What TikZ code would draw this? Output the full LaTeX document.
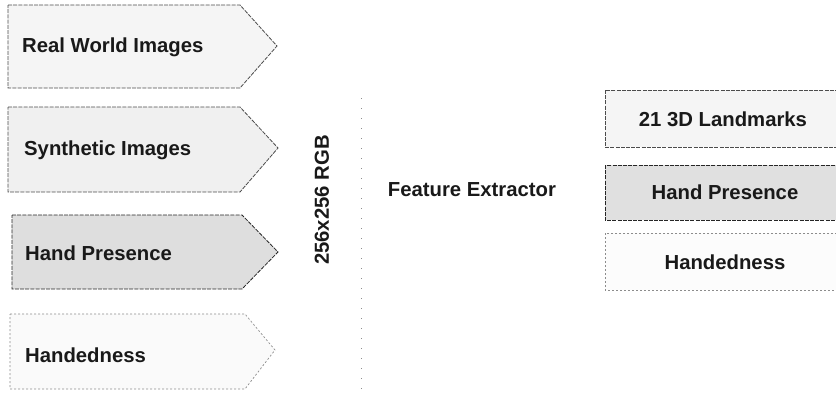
\documentclass[tikz,border=0pt]{standalone}
\usepackage{fontspec}
\setmainfont{Liberation Sans}
\begin{document}
\begin{tikzpicture}[x=1pt,y=-1pt,
  lbl/.style={font=\fontsize{20.3}{23}\selectfont\bfseries, inner sep=0pt, text=black!90},
  boxline/.style={draw=black!70, line width=0.8pt, dash pattern=on 4pt off 1.2pt},
  lightline/.style={draw=black!45, line width=0.7pt, dash pattern=on 2pt off 2pt}]
\useasboundingbox (0,0) rectangle (836,397);
\clip (0,0) rectangle (836,397);
% left pentagons
\draw[boxline, fill=black!4] (8,5) -- (240,5) -- (277,46) -- (240,88) -- (8,88) -- cycle;
\draw[boxline, fill=black!6] (8,107) -- (240,107) -- (278,148) -- (240,192) -- (8,192) -- cycle;
\draw[boxline, fill=black!13, draw=black!85] (12,215) -- (242,215) -- (278,252) -- (242,289) -- (12,289) -- cycle;
\draw[lightline, fill=black!2] (10,314) -- (245,314) -- (275,350) -- (245,389) -- (10,389) -- cycle;
\node[lbl, anchor=west] (real) at (22,47) {Real World Images};
\node[lbl, anchor=west] (synth) at (24,150) {Synthetic Images};
\node[lbl, anchor=west] (hpin) at (25,253) {Hand Presence};
\node[lbl, anchor=west] (hdin) at (25,355) {Handedness};
% input size and feature extractor
\node[lbl, rotate=90] (rgb) at (322,200) {256x256 RGB};
\draw[black!45, line width=0.8pt, dash pattern=on 1pt off 9pt] (361,98) -- (361,390);
\node[lbl] (fe) at (472,190) {Feature Extractor};
% right output boxes
\draw[boxline, fill=black!4] (605,90) rectangle (860,147);
\draw[boxline, fill=black!12, draw=black!85] (605,165) rectangle (860,220);
\draw[lightline, fill=black!1] (605,233) rectangle (860,290);
\node[lbl] (lm) at (723,119) {21 3D Landmarks};
\node[lbl] (hpout) at (725,192) {Hand Presence};
\node[lbl] (hdout) at (725,262) {Handedness};
\end{tikzpicture}
\end{document}
